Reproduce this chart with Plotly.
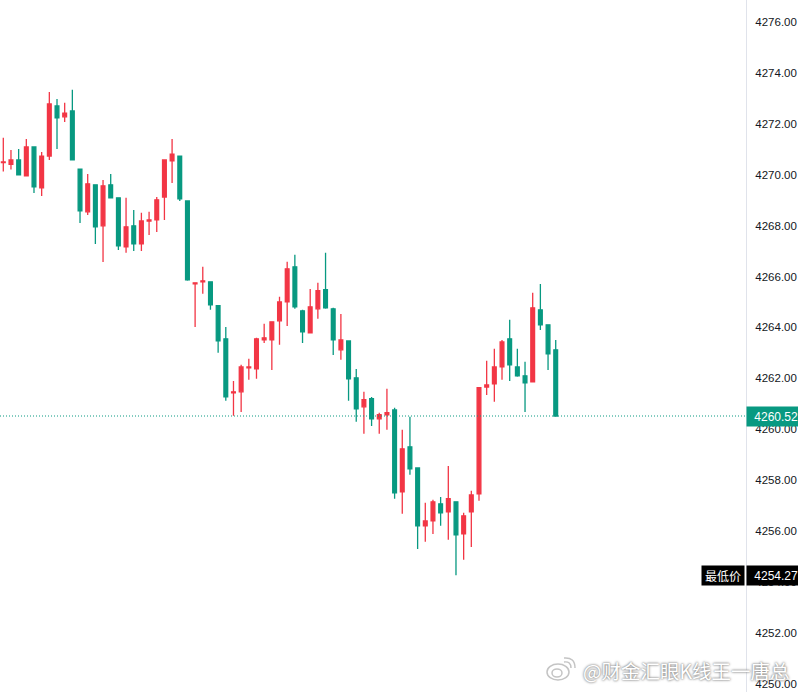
import plotly.graph_objects as go

# candles, oldest first
opens = [4270.47, 4270.40, 4270.58, 4269.95, 4271.09, 4269.48, 4270.73, 4272.70, 4272.27, 4272.50,
         4270.22, 4268.54, 4269.60, 4267.99, 4269.60, 4269.09, 4267.16, 4267.99, 4267.28, 4268.18,
         4268.22, 4269.12, 4270.54, 4270.73, 4268.97, 4265.71, 4265.79, 4265.79, 4264.85, 4263.55,
         4261.43, 4261.47, 4262.41, 4262.37, 4263.51, 4263.51, 4264.26, 4265.00, 4266.38, 4264.65,
         4263.79, 4264.73, 4265.48, 4264.73, 4263.12, 4263.47, 4262.02, 4260.88, 4261.20, 4260.41,
         4260.57, 4260.76, 4257.54, 4259.31, 4258.48, 4256.21, 4256.40, 4257.07, 4256.76, 4257.15,
         4255.89, 4256.76, 4257.46, 4261.66, 4261.78, 4262.45, 4263.55, 4262.45, 4262.10, 4261.86,
         4264.69, 4264.10, 4263.12]
highs = [4271.45, 4270.97, 4271.01, 4271.40, 4271.09, 4270.89, 4273.25, 4272.97, 4272.82, 4273.33,
         4270.22, 4270.03, 4269.60, 4269.79, 4270.03, 4269.09, 4269.09, 4268.61, 4268.50, 4268.54,
         4269.12, 4270.58, 4271.40, 4270.73, 4268.97, 4265.75, 4266.38, 4265.79, 4264.85, 4264.02,
         4261.90, 4262.53, 4262.77, 4263.59, 4264.14, 4264.22, 4265.20, 4266.58, 4266.85, 4264.69,
         4265.51, 4265.75, 4266.93, 4264.77, 4264.53, 4263.47, 4262.37, 4261.47, 4261.27, 4260.65,
         4261.59, 4260.84, 4259.98, 4260.49, 4258.48, 4257.11, 4257.23, 4257.34, 4258.56, 4257.15,
         4256.72, 4257.58, 4261.66, 4262.69, 4263.16, 4263.51, 4264.30, 4263.16, 4262.65, 4265.36,
         4265.71, 4264.10, 4263.51]
lows = [4270.12, 4270.20, 4269.99, 4269.95, 4269.28, 4269.16, 4270.58, 4271.01, 4272.07, 4270.58,
        4268.10, 4268.42, 4267.28, 4266.57, 4269.09, 4267.04, 4266.93, 4267.00, 4267.00, 4267.63,
        4267.75, 4268.22, 4269.67, 4268.97, 4265.83, 4264.02, 4265.32, 4264.69, 4263.00, 4261.12,
        4260.53, 4260.68, 4261.94, 4261.98, 4263.39, 4262.33, 4263.32, 4264.06, 4264.73, 4263.39,
        4263.79, 4264.34, 4264.73, 4262.92, 4262.73, 4261.12, 4260.29, 4259.82, 4260.13, 4259.82,
        4259.98, 4257.27, 4256.68, 4258.21, 4255.30, 4255.58, 4255.89, 4256.21, 4255.66, 4254.27,
        4254.87, 4255.38, 4257.19, 4261.35, 4261.08, 4261.94, 4261.90, 4262.06, 4260.68, 4261.86,
        4263.90, 4262.33, 4260.52]
closes = [4270.50, 4270.58, 4269.99, 4271.09, 4269.52, 4270.73, 4272.78, 4272.23, 4272.42, 4270.58,
          4268.58, 4269.64, 4267.95, 4269.56, 4269.09, 4267.20, 4267.95, 4267.28, 4268.18, 4268.22,
          4269.01, 4270.58, 4270.81, 4269.05, 4265.87, 4265.75, 4265.83, 4264.89, 4263.47, 4261.27,
          4261.47, 4262.45, 4262.45, 4263.55, 4263.59, 4264.22, 4265.00, 4266.30, 4264.81, 4263.83,
          4264.81, 4265.44, 4264.77, 4263.51, 4263.51, 4261.98, 4260.80, 4261.16, 4260.41, 4260.57,
          4260.65, 4257.50, 4259.23, 4258.44, 4256.21, 4256.40, 4257.15, 4256.72, 4257.27, 4255.85,
          4256.60, 4257.42, 4261.63, 4261.74, 4262.45, 4263.43, 4262.53, 4262.10, 4261.82, 4264.77,
          4264.10, 4262.96, 4260.52]

y_ticks = [4250, 4252, 4254, 4256, 4258, 4260, 4262, 4264, 4266, 4268, 4270, 4272, 4274, 4276]
last_price = 4260.52
low_price = 4254.27
low_label = '最低价'
watermark = '@财金汇眼K线王一唐总'

RED = '#f23645'
GREEN = '#089981'
W, H = 798, 692
PLOT_W = 746


def px(x):
    return x / PLOT_W


def py(y):
    return 1 - y / H


fig = go.Figure(go.Candlestick(
    x=list(range(len(opens))), open=opens, high=highs, low=lows, close=closes,
    increasing=dict(line=dict(color=RED, width=1.3), fillcolor=RED),
    decreasing=dict(line=dict(color=GREEN, width=1.3), fillcolor=GREEN),
    whiskerwidth=0, hoverinfo='skip'))

# weibo logo, rough outline
logo = dict(type='path', xref='paper', yref='paper', layer='above',
            line=dict(color='#c4c4c4', width=1.5))
shapes = [
    dict(type='line', xref='paper', x0=0, x1=1, yref='y', y0=last_price, y1=last_price,
         line=dict(color=GREEN, width=1, dash='1px,2px')),
    dict(type='circle', xref='paper', yref='paper', x0=px(547), x1=px(569), y0=py(680), y1=py(664),
         line=dict(color='#c4c4c4', width=1.5), fillcolor='white'),
    dict(type='circle', xref='paper', yref='paper', x0=px(552), x1=px(562), y0=py(677), y1=py(669),
         line=dict(color='#c4c4c4', width=1.5), fillcolor='white'),
    dict(logo, path=f'M {px(564)} {py(662)} Q {px(571)} {py(661)} {px(571)} {py(668)}'),
    dict(logo, path=f'M {px(564)} {py(658)} Q {px(575)} {py(657)} {px(575)} {py(668)}'),
]

tag_font = dict(family='Liberation Sans, Arial', size=12, color='white')
annotations = [
    dict(xref='paper', x=1, xanchor='left', yref='y', y=last_price, text=f'{last_price:.2f}',
         showarrow=False, bgcolor=GREEN, font=tag_font, width=50, height=17, align='right', borderpad=1),
    dict(xref='paper', x=1, xanchor='left', yref='y', y=low_price, text=f'{low_price:.2f}',
         showarrow=False, bgcolor='black', font=tag_font, width=50, height=17, align='right', borderpad=1),
    dict(xref='paper', x=0.9985, xanchor='right', yref='y', y=low_price, text=low_label,
         showarrow=False, bgcolor='black', width=40, height=17, borderpad=1,
         font=dict(family='Noto Sans CJK SC', size=12, color='white')),
    dict(xref='paper', x=px(581), xanchor='left', yref='paper', y=py(670), yanchor='middle', text=watermark,
         showarrow=False,
         font=dict(family='Noto Sans CJK SC', size=19.5, color='white',
                   shadow='0 0 2px #777, 0 0 3px #999')),
]

fig.update_layout(
    width=W, height=H,
    margin=dict(l=0, r=W - PLOT_W, t=0, b=0),
    paper_bgcolor='white', plot_bgcolor='white',
    showlegend=False, hovermode=False,
    shapes=shapes, annotations=annotations,
    xaxis=dict(visible=False, range=[-0.43, 96.8], rangeslider=dict(visible=False)),
    yaxis=dict(side='right', range=[4249.68, 4276.86], tickvals=y_ticks, tickformat='.2f',
               automargin=False,
               showgrid=False, zeroline=False, showline=True, linecolor='#e0e3eb', linewidth=1,
               ticks='', ticklabelstandoff=6,
               tickfont=dict(family='Liberation Sans, Arial', size=11.5, color='#131722')),
)

# the page's default body margin would push the chart off the window
fig.write_html('out.html', config={'displayModeBar': False},
               post_script="document.body.style.margin = '0';")
